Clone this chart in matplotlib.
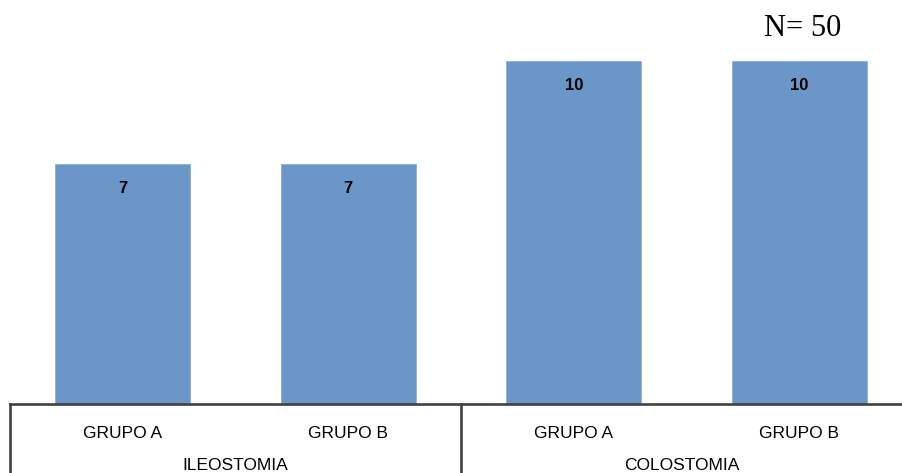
import matplotlib.pyplot as plt
import numpy as np

grupos = ["GRUPO A", "GRUPO B", "GRUPO A", "GRUPO B"]
tipos = ["ILEOSTOMIA", "COLOSTOMIA"]
valores = [7, 7, 10, 10]
total = 50

plt.rcParams["font.family"] = ["Liberation Sans", "DejaVu Sans"]

W, H = 902, 473
fig = plt.figure(figsize=(W / 100, H / 100), dpi=100)
ax = fig.add_axes([10 / W, (H - 404) / H, (W - 10) / W, 377 / H])

x = np.arange(len(valores))
barras = ax.bar(x, valores, width=0.6, color="#6a96c8", edgecolor="#8fb0d8", linewidth=0.6)

for b, v in zip(barras, valores):
    ax.text(b.get_x() + b.get_width() / 2, v - 0.7, str(v),
            ha="center", va="center", fontsize=12, fontweight="bold")

ax.set_xlim(-0.5, 3.456)
ax.set_ylim(0, 11)
ax.set_xticks([])
ax.set_yticks([])
for s in ax.spines.values():
    s.set_visible(False)

# eje de categorías con dos niveles
trans = ax.get_xaxis_transform()
linea = dict(color="#404040", lw=1.9, clip_on=False, transform=trans)
ax.plot([-0.5, 3.6], [0, 0], **linea)
ax.plot([-0.5, -0.5], [0, -0.2], **linea)
ax.plot([1.5, 1.5], [0, -0.2], **linea)

for xi, g in zip(x, grupos):
    ax.text(xi, -0.077, g, ha="center", va="center", fontsize=12.5, transform=trans)

for centro, t in zip([0.5, (1.5 + 3.456) / 2], tipos):
    ax.text(centro, -0.163, t, ha="center", va="center", fontsize=12.5, transform=trans)

fig.text(803 / W, 1 - 28 / H, f"N= {total}", ha="center", va="center",
         fontsize=22, family="Liberation Serif")

fig.savefig("out.png", dpi=100, facecolor="white")
